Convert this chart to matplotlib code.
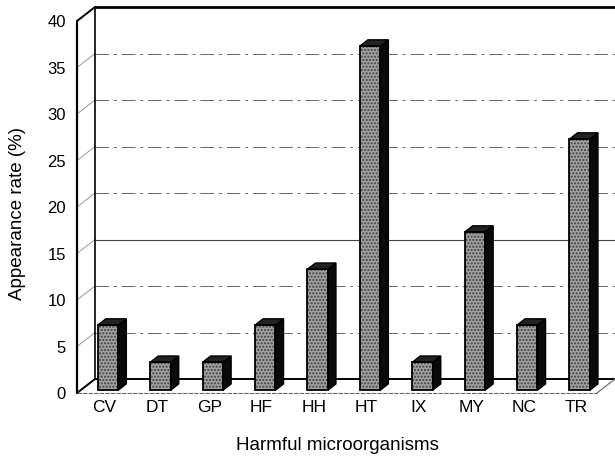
import matplotlib
matplotlib.use("Agg")
import matplotlib.pyplot as plt
from matplotlib.patches import Polygon

plt.rcParams['font.family'] = ['Liberation Sans', 'DejaVu Sans']

categories = ['CV', 'DT', 'GP', 'HF', 'HH', 'HT', 'IX', 'MY', 'NC', 'TR']
values = [7, 3, 3, 7, 13, 37, 3, 17, 7, 27]
y_ticks = [0, 5, 10, 15, 20, 25, 30, 35, 40]

# fake 3d box: front plane coords + depth offset
XL, XR = -0.523, 9.40
DX, DY = 0.3435, 1.505
D0, D1 = 0.2, 0.65
HW = 0.195


def proj(x, y, d):
    return (x + d * DX, y + d * DY)


def draw_bar(ax, i, v):
    front = [proj(i - HW, 0, D0), proj(i + HW, 0, D0), proj(i + HW, v, D0), proj(i - HW, v, D0)]
    side = [proj(i + HW, 0, D0), proj(i + HW, 0, D1), proj(i + HW, v, D1), proj(i + HW, v, D0)]
    top = [proj(i - HW, v, D0), proj(i + HW, v, D0), proj(i + HW, v, D1), proj(i - HW, v, D1)]
    ax.add_patch(Polygon(front, closed=True, facecolor='#a0a0a0', edgecolor='#404040',
                         hatch='.....', linewidth=0, zorder=3))
    ax.add_patch(Polygon(front, closed=True, fill=False, edgecolor='black', linewidth=1.3, zorder=4))
    ax.add_patch(Polygon(side, closed=True, facecolor='#0a0a0a', edgecolor='black', linewidth=1.0, zorder=3))
    ax.add_patch(Polygon(top, closed=True, facecolor='#222222', edgecolor='black', linewidth=1.0, zorder=3))


fig = plt.figure(figsize=(6.15, 4.61), dpi=100)
ax = fig.add_axes([77 / 615, 68 / 461, 538 / 615, 393 / 461])
ax.set_xlim(XL, XR + DX)
ax.set_ylim(0, 42.26)
for s in ax.spines.values():
    s.set_visible(False)

# back wall grid
for v in y_ticks[1:-1]:
    x0, y0 = proj(XL, v, 1)
    x1, y1 = proj(XR, v, 1)
    if v == 15:
        ax.plot([x0, x1], [y0, y1], color='#444444', linewidth=0.8, zorder=1)
    else:
        ax.plot([x0, x1], [y0, y1], color='#666666', linewidth=0.7,
                linestyle=(0, (14, 5, 3, 5)), zorder=1)
    fx, fy = proj(XL, v, 0)
    ax.plot([fx, x0], [fy, y0], color='#888888', linewidth=0.6, zorder=1)

# box frame
lines = [
    (proj(XL, 0, 0), proj(XL, 40, 0), 1.6),
    (proj(XL, 40, 0), proj(XL, 40, 1), 1.4),
    (proj(XL, 40, 1), proj(XR, 40, 1), 2.0),
    (proj(XL, 0, 1), proj(XL, 40, 1), 1.2),
    (proj(XL, 0, 0), proj(XL, 0, 1), 1.4),
    (proj(XL, 0, 1), proj(XR, 0, 1), 1.4),
]
for (a, b, lw) in lines:
    ax.plot([a[0], b[0]], [a[1], b[1]], color='black', linewidth=lw, zorder=2,
            solid_capstyle='round', clip_on=False)
a, b = proj(XL, 0, 0), proj(XR, 0, 0)
ax.plot([a[0], b[0]], [a[1], b[1]], color='#666666', linewidth=0.8, linestyle=(0, (4, 1)), zorder=2, clip_on=False)
a, b = proj(XR, 0, 0), proj(XR, 0, 1)
ax.plot([a[0], b[0]], [a[1], b[1]], color='#666666', linewidth=0.8, zorder=2, clip_on=False)

for i, v in enumerate(values):
    draw_bar(ax, i, v)

ax.set_yticks(y_ticks)
ax.set_yticklabels([str(t) for t in y_ticks], fontsize=12)
ax.set_xticks(range(len(categories)))
ax.set_xticklabels(categories, fontsize=12.5)
ax.tick_params(axis='y', length=0, pad=8)
ax.tick_params(axis='x', length=0, pad=5)

fig.text(337 / 615, 1 - 445 / 461, 'Harmful microorganisms', fontsize=13.5, ha='center', va='center')
fig.text(18 / 615, 1 - 213 / 461, 'Appearance rate (%)', fontsize=13.5, rotation=90, ha='center', va='center')

fig.savefig('out.png', dpi=100)
